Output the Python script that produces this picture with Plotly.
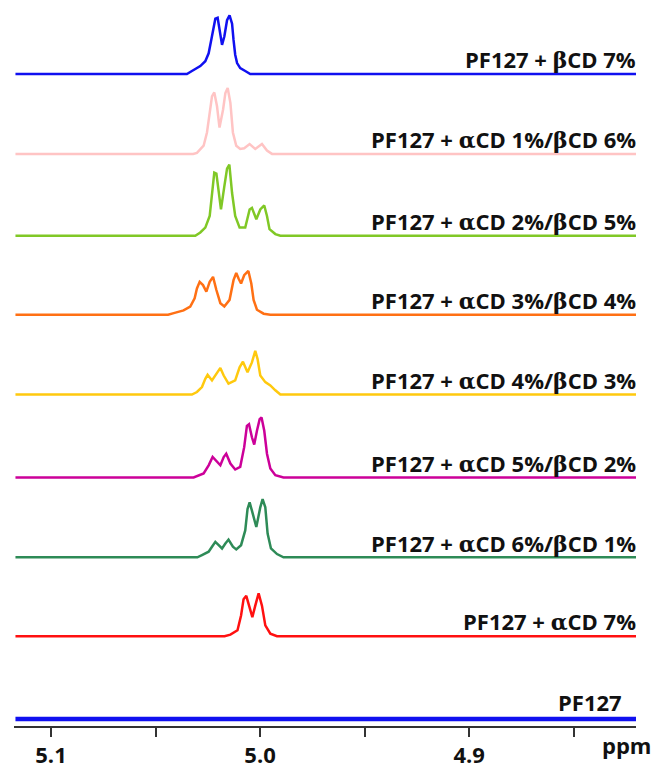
import plotly.graph_objects as go

# ---------------- data (ppm, intensity) ----------------
GR = "<span style=\"font-family:'DejaVu Serif'\">{}</span>"
labels = [
    "PF127 + " + GR.format("β") + "CD 7%",
    "PF127 + " + GR.format("α") + "CD 1%/" + GR.format("β") + "CD 6%",
    "PF127 + " + GR.format("α") + "CD 2%/" + GR.format("β") + "CD 5%",
    "PF127 + " + GR.format("α") + "CD 3%/" + GR.format("β") + "CD 4%",
    "PF127 + " + GR.format("α") + "CD 4%/" + GR.format("β") + "CD 3%",
    "PF127 + " + GR.format("α") + "CD 5%/" + GR.format("β") + "CD 2%",
    "PF127 + " + GR.format("α") + "CD 6%/" + GR.format("β") + "CD 1%",
    "PF127 + " + GR.format("α") + "CD 7%",
    "PF127",
]

ppm_b7 = [5.117, 5.0350, 5.0326, 5.0286, 5.0262, 5.0246, 5.0235, 5.0225, 5.0214, 5.0203,
          5.0190, 5.0182, 5.0171, 5.0158, 5.0146, 5.0134, 5.0127, 5.0119, 5.0110, 5.0095,
          5.0071, 5.0047, 4.820]
int_b7 = [0, 0, 3, 8, 13, 21, 33, 44.5, 56, 57, 41.5, 29.5, 38, 54.5, 59.5, 51, 34.5, 19.5,
          11, 6, 3, 0, 0]

ppm_a1b6 = [5.117, 5.0320, 5.0302, 5.0270, 5.0254, 5.0241, 5.0230, 5.0219, 5.0206, 5.0194,
            5.0177, 5.0166, 5.0155, 5.0142, 5.0130, 5.0114, 5.0095, 5.0076, 5.0050, 5.0023,
            4.9991, 4.9967, 4.9943, 4.820]
int_a1b6 = [0, 0, 1, 8.3, 21.7, 41.7, 58.3, 62.3, 48.3, 26.7, 45, 61.7, 66.7, 51.7, 21.7,
            8.3, 5, 5.7, 10, 5, 10, 3.3, 0, 0]

ppm_a2b5 = [5.117, 5.0310, 5.0286, 5.0262, 5.0241, 5.0230, 5.0219, 5.0209, 5.0198, 5.0187,
            5.0171, 5.0158, 5.0147, 5.0134, 5.0119, 5.0098, 5.0071, 5.0050, 5.0039, 5.0018,
            4.9999, 4.9980, 4.9967, 4.9955, 4.9927, 4.9903, 4.820]
int_a2b5 = [0, 0, 3.3, 8.3, 20, 40, 64, 63, 43.3, 26.7, 50, 68, 72, 43.3, 20, 8.3, 8.3,
            26.7, 28.3, 16.7, 26.7, 30.7, 20, 6.7, 1.7, 0, 0]

ppm_a3b4 = [5.117, 5.0440, 5.0413, 5.0366, 5.0334, 5.0313, 5.0302, 5.0289, 5.0273, 5.0257,
            5.0241, 5.0225, 5.0209, 5.0190, 5.0171, 5.0146, 5.0127, 5.0114, 5.0103, 5.0091,
            5.0076, 5.0056, 5.0042, 5.0031, 5.0015, 4.9983, 4.9951, 4.820]
int_a3b4 = [0, 0, 1.6, 4.3, 8.3, 16.6, 26.6, 33.3, 30, 23.3, 33.3, 38.3, 25, 11.6, 8.3, 15,
            35, 42.3, 36.6, 31.6, 40, 44.3, 31.6, 15, 5, 1, 0, 0]

ppm_a4b3 = [5.117, 5.0326, 5.0302, 5.0278, 5.0262, 5.0251, 5.0230, 5.0206, 5.0190, 5.0174,
            5.0151, 5.0119, 5.0098, 5.0082, 5.0060, 5.0039, 5.0023, 5.0012, 4.9999, 4.9975,
            4.9951, 4.9927, 4.9903, 4.820]
int_a4b3 = [0, 0, 2.6, 7.6, 16, 20, 14.3, 22.6, 27, 19.3, 11, 14.3, 27.6, 33.3, 22.6, 32.6,
            44.3, 36, 19.3, 12.6, 9.3, 4.3, 0, 0]

ppm_a5b2 = [5.117, 5.0318, 5.0270, 5.0246, 5.0227, 5.0206, 5.0190, 5.0174, 5.0162, 5.0142,
            5.0119, 5.0095, 5.0076, 5.0063, 5.0053, 5.0039, 5.0028, 5.0015, 5.0002, 4.9993,
            4.9980, 4.9967, 4.9951, 4.9927, 4.9888, 4.820]
int_a5b2 = [0, 0, 4, 12.3, 20.7, 15.7, 12.3, 20.7, 24, 14, 8, 10.7, 30.7, 52.3, 54, 40.7,
            33.3, 47.3, 59, 60.7, 47.3, 24, 9, 2.3, 0, 0]

ppm_a6b1 = [5.117, 5.0300, 5.0278, 5.0246, 5.0230, 5.0214, 5.0198, 5.0182, 5.0166, 5.0151,
            5.0130, 5.0114, 5.0091, 5.0071, 5.0060, 5.0050, 5.0039, 5.0018, 4.9999, 4.9988,
            4.9975, 4.9964, 4.9948, 4.9919, 4.9888, 4.820]
int_a6b1 = [0, 0, 2.3, 5.7, 10.7, 15.7, 12.3, 9, 14, 18, 10.7, 8, 12.3, 27.3, 49, 55.7,
            47.3, 30.7, 50.7, 59, 50.7, 24, 9, 3.3, 0, 0]

ppm_a7 = [5.117, 5.0170, 5.0142, 5.0108, 5.0091, 5.0079, 5.0066, 5.0053, 5.0037, 5.0023,
          5.0007, 4.9991, 4.9975, 4.9951, 4.9919, 4.820]
int_a7 = [0, 0, 1.6, 6, 21, 37.6, 41, 31, 19.3, 31, 43.6, 31, 11, 2.6, 0, 0]

ppm_pf = [5.117, 4.820]
int_pf = [0, 0]

tick_vals = [5.10, 5.05, 5.00, 4.95, 4.90, 4.85]
tick_text = ["<b>5.1</b>", "", "<b>5.0</b>", "", "<b>4.9</b>", ""]

# ---------------- styling ----------------
series_ppm = [ppm_b7, ppm_a1b6, ppm_a2b5, ppm_a3b4, ppm_a4b3, ppm_a5b2, ppm_a6b1, ppm_a7, ppm_pf]
series_int = [int_b7, int_a1b6, int_a2b5, int_a3b4, int_a4b3, int_a5b2, int_a6b1, int_a7, int_pf]
colors = ["#1010F0", "#FFC4C4", "#80C826", "#FF7014", "#FFC90E", "#CC0099", "#2E8B57",
          "#FF1010", "#1010F0"]
widths = [2.5, 2.5, 2.5, 2.5, 2.5, 2.5, 2.5, 2.5, 4.5]
offsets = [661, 580, 497, 417, 336, 252, 171, 91, 7]
W, H = 657, 769
ML, MR, MT, MB = 14, 21, 0, 33
PW = W - ML - MR
PH = H - MT - MB
label_right_px = [638] * 8 + [624]
label_x = [(p - ML) / PW for p in label_right_px]
label_dy = [15] * 8 + [17]

fig = go.Figure()
for xs, ys, c, w, off in zip(series_ppm, series_int, colors, widths, offsets):
    fig.add_trace(go.Scatter(x=xs, y=[v + off for v in ys], mode="lines",
                             line=dict(color=c, width=w), hoverinfo="skip",
                             showlegend=False))

for lab, off, lx, dy in zip(labels, offsets, label_x, label_dy):
    fig.add_annotation(x=lx, xref="paper", y=off + dy, yref="y", text="<b>" + lab + "</b>",
                       showarrow=False, xanchor="right", yanchor="middle",
                       font=dict(family="Open Sans", size=22, color="#111111"))

fig.add_annotation(x=(653 - ML) / PW, xref="paper", y=-19 / PH, yref="paper",
                   text="<b>ppm</b>", showarrow=False, xanchor="right", yanchor="middle",
                   font=dict(family="Open Sans", size=22, color="#111111"))

fig.update_layout(
    width=W, height=H,
    margin=dict(l=ML, r=MR, t=MT, b=MB),
    paper_bgcolor="white", plot_bgcolor="white",
    xaxis=dict(range=[5.1177, 4.8202], tickvals=tick_vals, ticktext=tick_text,
               showgrid=False, zeroline=False, showline=True, linecolor="#333333",
               linewidth=2, ticks="outside", ticklen=9, tickwidth=2, tickcolor="#333333",
               tickfont=dict(family="Open Sans", size=22, color="#111111"),
               fixedrange=True),
    yaxis=dict(range=[0, PH], visible=False, fixedrange=True),
)

fig.write_html("out.html", config={"displayModeBar": False},
               post_script="document.body.style.margin='0';document.body.style.overflow='hidden';")
